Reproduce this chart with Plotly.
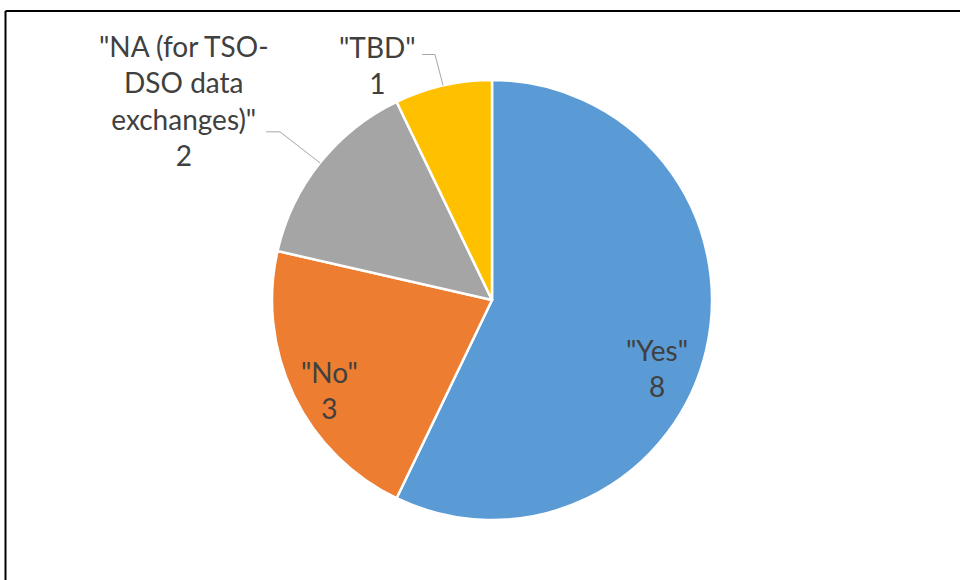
import math
import plotly.graph_objects as go

# data
labels = ['"Yes"', '"No"', '"NA (for TSO-<br>DSO data<br>exchanges)"', '"TBD"']
values = [8, 3, 2, 1]
colors = ['#5B9BD5', '#ED7D31', '#A5A5A5', '#FFC000']
inside = [True, True, False, False]

W, H = 960, 580
CX, CY, R = 492, 300, 220          # pie centre / radius in px
FONT = dict(family="Lato, sans-serif", size=28, color="#404040")

# label placement tweaks (px)
IN_NUDGE = {0: (-11, 28), 1: (0, 12)}
# outside labels: knee offset from slice edge, tail length, text centre offset
OUT_KNEE = {2: (-40, -31), 3: (-8, -31)}
OUT_TAIL = {2: -14, 3: -13}
OUT_TEXT = {2: (-136, -62), 3: (-66, -21)}

fig = go.Figure(go.Pie(
    labels=labels, values=values,
    marker=dict(colors=colors, line=dict(color='white', width=2.5)),
    sort=False, direction='clockwise', rotation=0,
    textinfo='none', hoverinfo='label+value',
    showlegend=False,
    domain=dict(x=[(CX - R) / W, (CX + R) / W], y=[(H - CY - R) / H, (H - CY + R) / H]),
))


def px(x):
    return x / W


def py(y):
    return 1 - y / H


total = sum(values)
cum = 0
annotations, shapes = [], []
for i, (lab, val) in enumerate(zip(labels, values)):
    mid = (cum + val / 2) / total * 2 * math.pi   # angle from 12 o'clock, clockwise
    cum += val
    text = f"{lab}<br>{val}"
    if inside[i]:
        r = 0.82 * R
        dx, dy = IN_NUDGE.get(i, (0, 0))
        tx, ty = CX + r * math.sin(mid) + dx, CY - r * math.cos(mid) + dy
    else:
        ex, ey = CX + R * math.sin(mid), CY - R * math.cos(mid)
        kx, ky = ex + OUT_KNEE[i][0], ey + OUT_KNEE[i][1]
        lx = kx + OUT_TAIL[i]
        shapes.append(dict(type='path', xref='paper', yref='paper',
                           path=f"M {px(ex)},{py(ey)} L {px(kx)},{py(ky)} L {px(lx)},{py(ky)}",
                           line=dict(color='#a6a6a6', width=1)))
        tx, ty = ex + OUT_TEXT[i][0], ey + OUT_TEXT[i][1]
    annotations.append(dict(x=px(tx), y=py(ty), xref='paper', yref='paper', text=text,
                            xanchor='center', yanchor='middle',
                            showarrow=False, font=FONT))

# chart border (runs off the right/bottom of the picture)
shapes += [
    dict(type='line', xref='paper', yref='paper', x0=px(5.5), x1=1.0, y0=py(11), y1=py(11),
         line=dict(color='black', width=2)),
    dict(type='line', xref='paper', yref='paper', x0=px(5.5), x1=px(5.5), y0=0, y1=py(11),
         line=dict(color='black', width=2)),
]

fig.update_layout(
    width=W, height=H,
    margin=dict(l=0, r=0, t=0, b=0),
    paper_bgcolor='white', plot_bgcolor='white',
    annotations=annotations,
    shapes=shapes,
)

fig.write_html("out.html", config={'displayModeBar': False},
               post_script="document.body.style.margin='0';")
